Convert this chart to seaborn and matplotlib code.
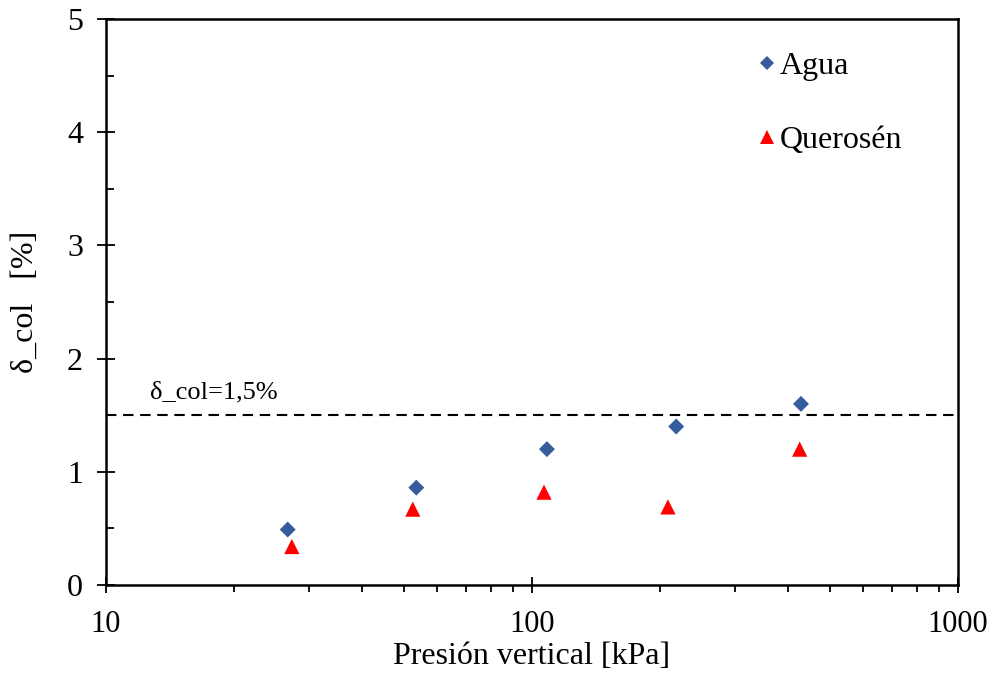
import matplotlib
matplotlib.use("Agg")
import matplotlib.pyplot as plt
from matplotlib.lines import Line2D
from matplotlib.ticker import LogLocator, MultipleLocator, FixedLocator, NullFormatter
import numpy as np
import pandas as pd
import seaborn as sns

# Ensayos de colapso: presión vertical aplicada y deformación de colapso medida
presion_agua = [26.7, 53.5, 108.4, 218.0, 428.0]
colapso_agua = [0.49, 0.86, 1.20, 1.40, 1.60]

presion_querosen = [27.3, 52.5, 106.7, 208.5, 425.0]
colapso_querosen = [0.34, 0.67, 0.82, 0.69, 1.20]

fluidos = ["Agua", "Querosén"]
limite_colapso = 1.5
texto_limite = "δ_col=1,5%"

x_ticks = [10, 100, 1000]
x_tick_labels = ["10", "100", "1000"]
y_ticks = [0, 1, 2, 3, 4, 5]

sns.set_theme(style="white")
plt.rcParams["font.family"] = ["Liberation Serif", "DejaVu Serif"]
plt.rcParams["text.color"] = "black"
plt.rcParams["axes.labelcolor"] = "black"

df = pd.DataFrame({
    "Presión": presion_agua + presion_querosen,
    "Colapso": colapso_agua + colapso_querosen,
    "Fluido": [fluidos[0]] * len(presion_agua) + [fluidos[1]] * len(presion_querosen),
})

colores = {"Agua": "#355C9C", "Querosén": "#FF0000"}
marcadores = {"Agua": "D", "Querosén": "^"}

fig = plt.figure(figsize=(9.94, 6.75), dpi=100)
ax = fig.add_axes([106 / 994, 90 / 675, 852 / 994, 566 / 675])

ax.set_xscale("log")
sns.scatterplot(data=df, x="Presión", y="Colapso", hue="Fluido", style="Fluido",
                palette=colores, markers=marcadores, size="Fluido",
                sizes={"Agua": 66, "Querosén": 120}, linewidth=0, ax=ax,
                legend=False, zorder=3)

ax.axhline(limite_colapso, color="black", linestyle=(0, (5, 3.2)), linewidth=1.5, zorder=2)
ax.text(12.7, limite_colapso + 0.1, texto_limite, fontsize=19, ha="left", va="bottom")

ax.set_xlim(10, 1000)
ax.set_ylim(0, 5)

ax.xaxis.set_major_locator(FixedLocator(x_ticks))
ax.set_xticklabels(x_tick_labels)
ax.xaxis.set_minor_locator(LogLocator(base=10, subs=np.arange(2, 10)))
ax.xaxis.set_minor_formatter(NullFormatter())
ax.yaxis.set_major_locator(FixedLocator(y_ticks))
ax.yaxis.set_minor_locator(MultipleLocator(0.5))

ax.tick_params(axis="both", which="both", bottom=True, left=True, top=False, right=False,
               color="black")
ax.tick_params(axis="x", which="major", direction="inout", length=12, width=1.3,
               labelsize=22, pad=12, labelcolor="black")
ax.tick_params(axis="x", which="minor", direction="out", length=5, width=1.3)
ax.tick_params(axis="y", which="major", direction="inout", length=13, width=1.3,
               labelsize=23, pad=10, labelcolor="black")
ax.tick_params(axis="y", which="minor", direction="in", length=6, width=1.3)

for s in ax.spines.values():
    s.set_color("black")
    s.set_linewidth(1.8)

ax.set_xlabel("Presión vertical [kPa]", fontsize=23, labelpad=2)
ax.set_ylabel("δ_col   [%]", fontsize=23, labelpad=20)

handles = [
    Line2D([], [], linestyle="none", marker="D", markersize=7,
           markerfacecolor=colores["Agua"], markeredgewidth=0, label="Agua"),
    Line2D([], [], linestyle="none", marker="^", markersize=10,
           markerfacecolor=colores["Querosén"], markeredgewidth=0, label="Querosén"),
]
ax.legend(handles=handles, loc="upper left", bbox_to_anchor=(0.75, 0.965),
          frameon=False, fontsize=23, handlelength=0.6, handletextpad=0.1,
          labelspacing=1.4, borderaxespad=0, labelcolor="black")

fig.savefig("out.png", dpi=100, facecolor="white")
